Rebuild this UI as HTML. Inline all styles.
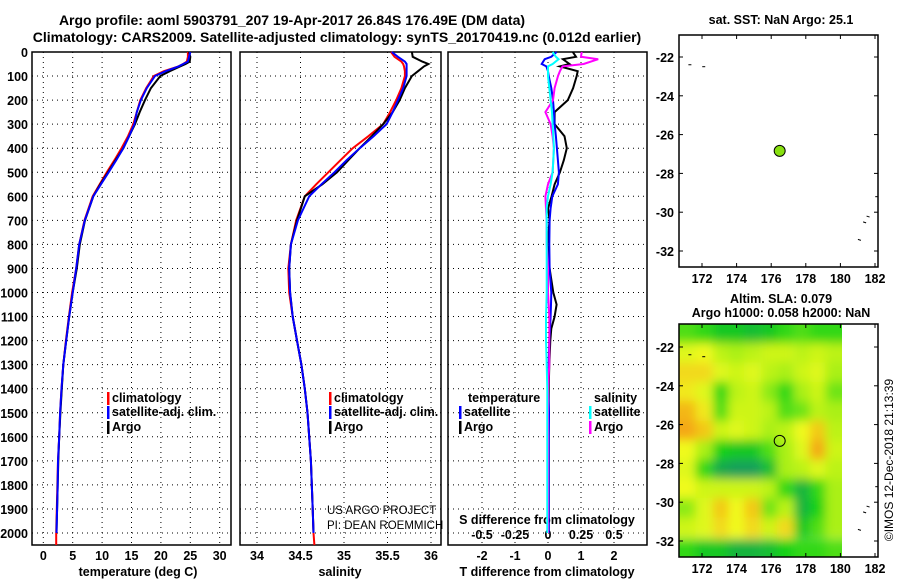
<!DOCTYPE html>
<html><head><meta charset="utf-8"><style>
body{margin:0;background:#fff;}
svg{display:block;font-family:"Liberation Sans",sans-serif;}
.b{font-weight:bold;font-size:12.5px;}
.t{font-weight:bold;font-size:14px;}
</style></head><body>
<svg id="s" width="900" height="580" viewBox="0 0 900 580">
<defs>
<filter id="blur" x="0" y="0" width="1" height="1"><feGaussianBlur stdDeviation="5"/></filter>
<clipPath id="mapclip"><rect x="679" y="324" width="163" height="233"/></clipPath>
</defs>
<text class="t" x="292" y="25" text-anchor="middle">Argo profile: aoml 5903791_207 19-Apr-2017 26.84S 176.49E (DM data)</text>
<text class="t" x="337" y="42" text-anchor="middle">Climatology: CARS2009. Satellite-adjusted climatology: synTS_20170419.nc (0.012d earlier)</text>
<text class="b" x="781" y="24" text-anchor="middle">sat. SST: NaN Argo: 25.1</text>
<text class="b" x="781" y="303" text-anchor="middle">Altim. SLA: 0.079</text>
<text class="b" x="781" y="317" text-anchor="middle">Argo h1000: 0.058 h2000: NaN</text>
<text x="893" y="460" font-size="12" text-anchor="middle" transform="rotate(-90 893 460)">©IMOS 12-Dec-2018 21:13:39</text>
</svg>
<script>
// ---- data ----
const depths=[0,20,40,50,60,80,100,150,200,250,300,350,400,450,500,550,600,700,800,900,1000,1100,1200,1300,1400,1500,1600,1700,1800,1900,2000];
const climDepths=[0,20,40,50,60,80,100,150,200,250,300,350,400,450,500,550,600,700,800,900,1000,1100,1200,1300,1400,1500,1600,1700,1800,1900,2000,2050];
const argoT=[24.8,25.0,24.9,24.2,23.3,21.5,19.9,18.3,17.3,16.4,15.6,14.6,13.6,12.3,11.0,9.7,8.5,7.1,6.2,5.7,5.0,4.4,3.9,3.4,3.15,2.9,2.7,2.55,2.45,2.35,2.25];
const climT=[24.6,24.6,24.4,23.8,23.0,20.5,18.8,17.5,16.5,15.9,15.3,14.4,13.3,12.1,10.8,9.6,8.4,7.0,6.1,5.6,4.9,4.35,3.85,3.4,3.1,2.85,2.7,2.5,2.4,2.3,2.2,2.2];
const satT=[25.0,24.8,24.6,23.8,23.0,20.8,19.0,17.6,16.6,15.9,15.5,14.6,13.6,12.4,11.1,9.8,8.5,7.05,6.1,5.6,5.0,4.4,3.9,3.4,3.1,2.85,2.7,2.5,2.45,2.35,2.25];
const argoS=[35.78,35.79,35.9,35.97,35.92,35.85,35.78,35.7,35.64,35.56,35.45,35.32,35.18,35.05,34.92,34.75,34.55,34.46,34.39,34.37,34.38,34.41,34.46,34.51,34.55,34.58,34.6,34.62,34.63,34.64,34.65];
const climS=[35.54,35.58,35.66,35.68,35.69,35.7,35.7,35.66,35.6,35.53,35.45,35.28,35.1,34.96,34.82,34.68,34.55,34.45,34.39,34.36,34.37,34.41,34.46,34.51,34.55,34.58,34.6,34.62,34.63,34.64,34.65,34.66];
const satS=[35.55,35.62,35.7,35.72,35.72,35.72,35.72,35.68,35.62,35.56,35.49,35.34,35.18,35.03,34.89,34.74,34.6,34.47,34.39,34.37,34.38,34.41,34.46,34.51,34.55,34.58,34.6,34.62,34.63,34.64,34.65];
const diffDepths=[0,20,30,50,60,80,100,150,200,250,300,350,400,450,500,550,600,650,700,800,900,1000,1050,1100,1150,1200,1300,1400,1500,1600,1800,2000];
const argoTdiff=[0.75,0.85,0.45,0.65,0.36,0.9,0.87,0.76,0.6,0.2,0.2,0.5,0.57,0.48,0.36,0.2,0.11,0.0,0.05,-0.02,0.05,0.16,0.26,0.2,0.1,0.07,0.04,0.02,0.02,0.02,0.02,0.02];
const satTdiff=[0.26,0.1,-0.1,-0.19,-0.05,0.0,0.02,0.1,0.15,0.18,0.2,0.24,0.27,0.3,0.33,0.3,0.13,0.08,0.05,0.04,0.05,0.1,0.09,0.08,0.06,0.04,0.02,0.0,0.03,0.02,0.02,0.02];
const argoSdiff=[0.255,0.25,0.38,0.27,0.11,0.09,0.076,0.05,0.038,-0.02,0.02,0.035,0.045,0.04,0.035,0.0,-0.02,-0.015,-0.01,-0.01,0.0,0.0,0.005,0.01,0.01,0.01,0.01,0.0,0,0,0,0];
const satSdiff=[0.035,0.06,0.08,0.035,0.0,0.0,0.0,0.01,0.02,0.03,0.035,0.04,0.045,0.04,0.035,0.02,0.0,-0.01,-0.01,-0.01,-0.01,-0.01,-0.012,-0.015,-0.015,-0.015,-0.01,-0.005,-0.005,-0.005,-0.005,-0.005];
const depthTicks=[0,100,200,300,400,500,600,700,800,900,1000,1100,1200,1300,1400,1500,1600,1700,1800,1900,2000];
const tTicks=[0,5,10,15,20,25,30];
const sTicks=[34,34.5,35,35.5,36];
const tdTicks=[-2,-1,0,1,2];
const sdTicks=["-0.5","-0.25","0","0.25","0.5"];
const lonTicks=[172,174,176,178,180,182];
const latTicks=[-22,-24,-26,-28,-30,-32];
const slaLons=[171.2,172.1,173.1,174.0,174.9,175.9,176.8,177.8,178.7,179.6];
const slaLats=[-21.3,-22.3,-23.3,-24.3,-25.3,-26.3,-27.3,-28.3,-29.3,-30.3,-31.3,-32.4];
const slaGrid=[
[0.35,0.3,0.2,0.2,0.15,0.2,0.3,0.35,0.3,0.3],
[0.65,0.7,0.55,0.5,0.55,0.6,0.6,0.55,0.6,0.55],
[0.8,0.8,0.65,0.6,0.65,0.55,0.5,0.6,0.65,0.5],
[0.75,0.65,0.3,0.55,0.6,0.45,0.3,0.5,0.6,0.4],
[0.9,0.75,0.35,0.6,0.6,0.55,0.35,0.4,0.55,0.5],
[0.95,0.85,0.6,0.65,0.6,0.5,0.55,0.7,0.85,0.55],
[0.7,0.5,0.25,0.2,0.2,0.35,0.5,0.65,0.95,0.6],
[0.65,0.3,0.05,0.0,0.0,0.15,0.5,0.55,0.65,0.55],
[0.7,0.6,0.6,0.6,0.6,0.55,0.3,0.1,0.3,0.5],
[0.45,0.65,0.85,0.7,0.85,0.4,0.55,0.1,0.25,0.5],
[0.6,0.65,0.8,0.7,0.8,0.6,0.8,0.2,0.35,0.5],
[0.3,0.2,0.2,0.1,0.1,0.15,0.25,0.3,0.3,0.35]];
const floatLon=176.49, floatLat=-26.84;

// ---- scales ----
const NS="http://www.w3.org/2000/svg";
const svg=document.getElementById('s');
function mk(tag,attrs,parent){const e=document.createElementNS(NS,tag);for(const k in attrs)e.setAttribute(k,attrs[k]);(parent||svg).appendChild(e);return e;}
const yD=d=>52+d*0.2405;
const xT=t=>43.3+t*5.88;
const xS=s=>257+(s-34)*87;
const xTd=t=>548+t*33;
const xSd=s=>548+s*132;
const xLon=l=>702+(l-172)*17.3;
const yLat1=l=>57+(-22-l)*19.4;
const yLat2=l=>347+(-22-l)*19.4;
const panels=[{x0:32,x1:231},{x0:240,x1:441},{x0:448,x1:647}];
const pTop=52,pBot=545;

function panelFrame(p,xs,ticks,name){
  const g=mk('g',{});
  
  
  ticks.forEach(v=>{const x=xs(v);mk('line',{x1:x,x2:x,y1:pTop,y2:pBot,stroke:'#000','stroke-width':1,'stroke-dasharray':'1 4'},g);});
  depthTicks.forEach(d=>{const y=yD(d);mk('line',{x1:p.x0,x2:p.x1,y1:y,y2:y,stroke:'#000','stroke-width':1,'stroke-dasharray':'1 4'},g);});
  mk('rect',{x:p.x0,y:pTop,width:p.x1-p.x0,height:pBot-pTop,fill:'none',stroke:'#000','stroke-width':1.5},g);
  return g;
}
function line(xs,vals,ds,color,name,w){
  const pts=vals.map((v,i)=>xs(v).toFixed(1)+','+yD(ds[i]).toFixed(1)).join(' ');
  const e=mk('polyline',{points:pts,fill:'none',stroke:color,'stroke-width':w||2});
  
  
}
function txt(x,y,s,cls,anchor,name,extra){
  const e=mk('text',Object.assign({x:x,y:y,'text-anchor':anchor||'middle'},extra||{}));
  if(cls)e.setAttribute('class',cls);
  e.textContent=s;
  
  
  return e;
}
// panel 1
panelFrame(panels[0],xT,tTicks,'temperature-panel');
depthTicks.forEach(d=>txt(28,yD(d)+5,String(d),'b','end','depth-tick-label'));
tTicks.forEach(t=>txt(xT(t),560,String(t),'b','middle','temperature-tick-label'));
txt(138,576,'temperature (deg C)','b','middle','temperature-axis-title');
line(xT,climT,climDepths,'#f00','climatology-temperature-line');
line(xT,argoT,depths,'#000','argo-temperature-line');
line(xT,satT,depths,'#00f','satellite-temperature-line');
// panel 2
panelFrame(panels[1],xS,sTicks,'salinity-panel');
sTicks.forEach(s=>txt(xS(s),560,String(s),'b','middle','salinity-tick-label'));
txt(340,576,'salinity','b','middle','salinity-axis-title');
line(xS,climS,climDepths,'#f00','climatology-salinity-line');
line(xS,argoS,depths,'#000','argo-salinity-line');
line(xS,satS,depths,'#00f','satellite-salinity-line');
// panel 3
panelFrame(panels[2],xTd,tdTicks,'difference-panel');
tdTicks.forEach(t=>txt(xTd(t),560,String(t),'b','middle','t-diff-tick-label'));
sdTicks.forEach(s=>txt(xSd(parseFloat(s)),539,s,'b','middle','s-diff-tick-label'));
txt(547,576,'T difference from climatology','b','middle','t-diff-axis-title');
txt(547,524,'S difference from climatology','b','middle','s-diff-axis-title');
line(xTd,argoTdiff,diffDepths,'#000','argo-t-diff-line');
line(xTd,satTdiff,diffDepths,'#00f','satellite-t-diff-line');
line(xSd,argoSdiff,diffDepths,'#f0f','argo-s-diff-line');
line(xSd,satSdiff,diffDepths,'#0ff','satellite-s-diff-line');
// legends
function legend(x,y,color,label,name){
  const g=mk('g',{});
  
  
  mk('rect',{x:x,y:y-10,width:2.5,height:13,fill:color},g);
  const t=mk('text',{x:x+5,y:y,class:'b'},g); t.textContent=label;
}
legend(107,402,'#f00','climatology','legend-climatology');
legend(107,416,'#00f','satellite-adj. clim.','legend-satellite-adj');
legend(107,431,'#000','Argo','legend-argo');
legend(329,402,'#f00','climatology','legend-climatology-s');
legend(329,416,'#00f','satellite-adj. clim.','legend-satellite-adj-s');
legend(329,431,'#000','Argo','legend-argo-s');
txt(468,402,'temperature','b','start','legend-temperature-heading');
legend(459,416,'#00f','satellite','legend-t-satellite');
legend(459,431,'#000','Argo','legend-t-argo');
txt(594,402,'salinity','b','start','legend-salinity-heading');
legend(589,416,'#0ff','satellite','legend-s-satellite');
legend(589,431,'#f0f','Argo','legend-s-argo');
txt(327,514,'US ARGO PROJECT','','start','project-label',{'font-size':'11.5'});
txt(327,529,'PI: DEAN ROEMMICH','','start','pi-label',{'font-size':'11.5'});

// maps
function mapFrame(y0,y1,yl,name){
  const g=mk('g',{});
  
  
  mk('rect',{x:679,y:y0,width:199,height:y1-y0,fill:'none',stroke:'#000','stroke-width':1.5},g);
  lonTicks.forEach(l=>{const x=xLon(l);
    mk('line',{x1:x,x2:x,y1:y1,y2:y1-4,stroke:'#000'},g);mk('line',{x1:x,x2:x,y1:y0,y2:y0+4,stroke:'#000'},g);
    txt(x,y1+16,String(l),'b','middle','lon-tick-label');});
  latTicks.forEach(l=>{const y=yl(l);
    mk('line',{x1:679,x2:683,y1:y,y2:y,stroke:'#000'},g);mk('line',{x1:878,x2:874,y1:y,y2:y,stroke:'#000'},g);
    txt(674,y+5,String(l),'b','end','lat-tick-label');});
}
// SLA heatmap
const stops=[[0,[20,160,90]],[0.25,[20,210,20]],[0.5,[170,240,20]],[0.7,[240,250,30]],[1,[245,150,20]]];
function col(v){for(let i=1;i<stops.length;i++){if(v<=stops[i][0]){const a=stops[i-1],b=stops[i],f=(v-a[0])/(b[0]-a[0]);return 'rgb('+a[1].map((c,k)=>Math.round(c+(b[1][k]-c)*f)).join(',')+')';}}return 'rgb(245,150,20)';}
const hm=mk('g',{'clip-path':'url(#mapclip)'});


const hb=mk('g',{filter:'url(#blur)'},hm);
const dLon=0.94,dLat=1.0;
slaGrid.forEach((row,r)=>row.forEach((v,c)=>{
  const x=xLon(slaLons[c]-dLon/2), y=yLat2(slaLats[r]+dLat/2);
  const w=xLon(slaLons[c]+dLon/2)-x+(c==row.length-1?20:1), h=yLat2(slaLats[r]-dLat/2)-y+(r==slaGrid.length-1?20:1);
  const e=mk('rect',{x:c==0?x-20:x,y:r==0?y-20:y,width:c==0?w+20:w,height:r==0?h+20:h,fill:col(v)},hb);
  
  
}));
mapFrame(35,267,yLat1,'sst-map');
mapFrame(324,557,yLat2,'sla-map');
// coast specks
[[171.3,-22.4,1],[172.1,-22.5,1],[182.1,-29.2,1],[181.6,-30.2,2],[181.4,-30.5,2],[181.1,-31.4,2]].forEach(p=>{
  [yLat1,yLat2].forEach(yf=>{const e=mk('line',{x1:xLon(p[0])-1.5,x2:xLon(p[0])+1.5,y1:yf(p[1]),y2:yf(p[1])+(p[2]-1),stroke:'#000','stroke-width':1});
  
  });
});
const m1=mk('circle',{cx:xLon(floatLon),cy:yLat1(floatLat),r:5.5,fill:'#88e010',stroke:'#000','stroke-width':1});


const m2=mk('circle',{cx:xLon(floatLon),cy:yLat2(floatLat),r:5.5,fill:'none',stroke:'#000','stroke-width':1});


</script>
</body></html>
